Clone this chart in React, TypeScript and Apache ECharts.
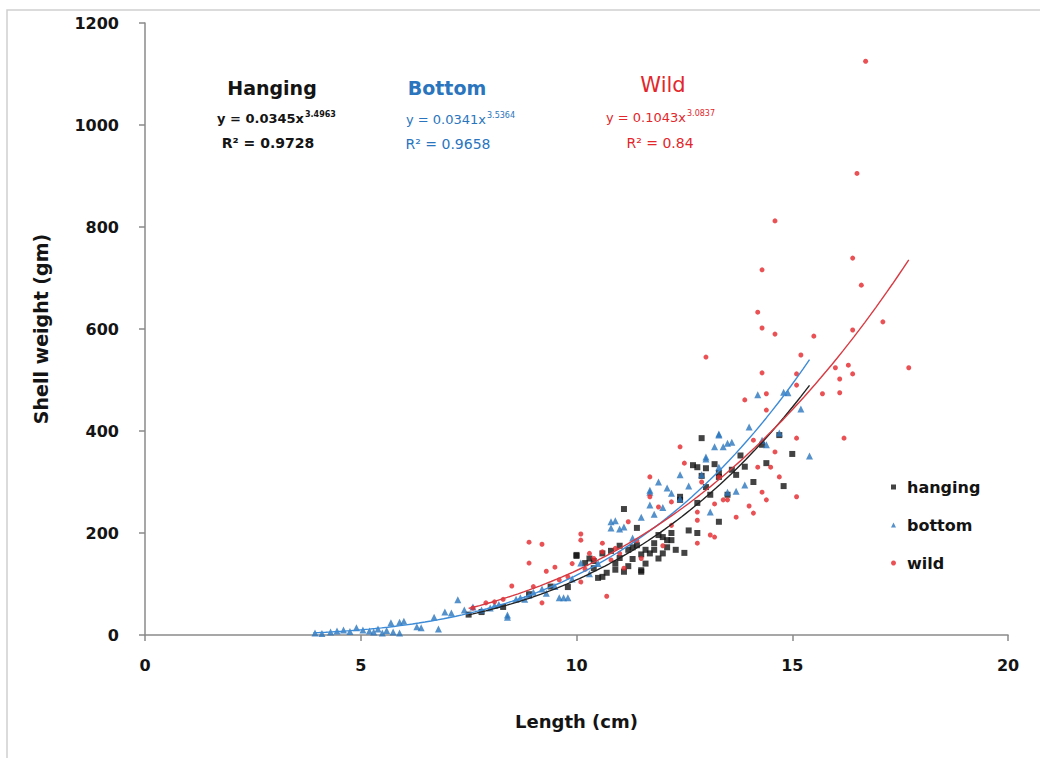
import React, { useEffect, useRef } from "react";
import * as echarts from "echarts";

const xTicks = [0, 5, 10, 15, 20];
const yTicks = [0, 200, 400, 600, 800, 1000, 1200];

const hanging: number[][] = [
  [7.5, 40], [7.8, 45], [8.3, 55], [8.9, 80], [9.4, 95], [9.8, 94], [10.0, 155], [10.0, 157],
  [10.2, 141], [10.3, 150], [10.4, 131], [10.5, 112], [10.6, 114], [10.6, 160], [10.7, 122],
  [10.8, 165], [10.9, 140], [11.0, 151], [11.0, 175], [11.1, 124], [11.1, 247], [11.2, 167],
  [11.2, 135], [11.3, 149], [11.4, 210], [11.4, 176], [11.5, 127], [11.5, 124], [11.6, 167],
  [11.6, 140], [11.7, 160], [11.8, 167], [11.9, 196], [11.9, 150], [12.0, 192], [12.0, 160],
  [12.1, 186], [12.2, 186], [12.2, 200], [12.3, 167], [12.4, 271], [12.4, 265], [12.5, 161],
  [12.7, 333], [12.8, 329], [12.8, 259], [12.8, 200], [12.9, 386], [12.9, 312], [13.0, 327],
  [13.0, 290], [13.3, 310], [13.3, 318], [13.3, 222], [13.5, 275], [13.6, 324], [13.7, 314],
  [13.9, 330], [14.1, 300], [14.3, 373], [14.4, 337], [14.7, 392], [14.8, 292], [15.0, 355],
  [10.4, 145], [10.9, 128], [11.3, 172], [11.5, 158], [11.8, 180], [12.1, 172], [12.6, 205],
  [13.1, 275], [13.2, 335], [13.8, 352],
];

const bottom: number[][] = [
  [3.94, 4], [4.1, 3], [4.3, 6], [4.45, 8], [4.6, 10], [4.75, 7], [4.9, 14], [5.05, 10],
  [5.2, 8], [5.3, 6], [5.4, 12], [5.5, 4], [5.6, 9], [5.75, 6], [5.7, 24], [5.9, 4], [5.9, 25],
  [6.0, 27], [6.3, 16], [6.4, 14], [6.7, 35], [6.8, 12], [6.95, 45], [7.1, 43], [7.25, 69],
  [7.4, 49], [7.6, 55], [7.8, 49], [8.0, 53], [8.2, 60], [8.4, 39], [8.4, 35], [8.6, 70],
  [8.7, 73], [8.9, 78], [9.0, 84], [9.3, 82], [9.5, 95], [9.6, 73], [9.7, 73], [9.8, 73],
  [10.1, 141], [10.3, 120], [10.8, 222], [10.8, 210], [10.9, 224], [11.0, 208], [11.1, 212],
  [11.5, 231], [11.7, 284], [11.7, 255], [11.7, 280], [11.8, 237], [11.9, 300], [12.1, 288],
  [12.2, 278], [12.4, 314], [12.4, 267], [12.6, 292], [12.9, 314], [13.0, 345], [13.0, 349],
  [13.1, 241], [13.2, 369], [13.3, 392], [13.3, 329], [13.3, 394], [13.4, 369], [13.5, 376],
  [13.5, 280], [13.6, 378], [13.7, 282], [13.9, 294], [14.0, 408], [14.2, 471], [14.3, 382],
  [14.4, 373], [14.7, 396], [14.8, 476], [14.9, 475], [15.2, 443], [15.4, 351],
  [8.1, 58], [8.8, 70], [9.2, 90], [9.9, 110], [10.5, 140], [11.3, 190], [12.0, 250],
];

const wild: number[][] = [
  [7.6, 53], [7.9, 63], [8.1, 65], [8.5, 96], [8.9, 182], [8.9, 141], [9.2, 178], [9.2, 63],
  [9.3, 125], [9.5, 133], [9.6, 108], [9.8, 114], [9.9, 140], [10.1, 198], [10.1, 186],
  [10.1, 104], [10.2, 129], [10.4, 150], [10.6, 180], [10.6, 163], [10.7, 76], [10.8, 147],
  [11.0, 160], [11.1, 131], [11.2, 222], [11.5, 150], [11.7, 310], [11.7, 271], [11.9, 251],
  [12.0, 175], [12.2, 261], [12.4, 369], [12.5, 337], [12.8, 241], [12.8, 225], [12.8, 180],
  [13.0, 545], [13.1, 196], [13.2, 257], [13.2, 192], [13.3, 310], [13.4, 265], [13.5, 265],
  [13.7, 231], [13.9, 461], [14.0, 253], [14.1, 239], [14.1, 382], [14.2, 329], [14.2, 633],
  [14.3, 716], [14.3, 602], [14.3, 514], [14.3, 280], [14.4, 473], [14.4, 441], [14.4, 265],
  [14.5, 329], [14.6, 812], [14.6, 590], [14.6, 359], [14.7, 310], [15.1, 512], [15.1, 490],
  [15.1, 386], [15.1, 271], [15.2, 549], [15.5, 586], [15.7, 473], [16.0, 524], [16.1, 502],
  [16.1, 475], [16.2, 386], [16.3, 529], [16.4, 739], [16.4, 598], [16.4, 512], [16.5, 905],
  [16.6, 686], [16.7, 1125], [17.1, 614], [17.7, 524],
  [8.3, 70], [9.0, 95], [10.3, 160], [10.9, 170], [11.4, 185], [12.2, 215], [12.9, 300],
];

// Power trendlines as displayed on the chart: [coefficient, exponent, xStart, xEnd]
const hangingFit = [0.0345, 3.4963, 7.5, 15.4];
const bottomFit = [0.0341, 3.5364, 3.9, 15.4];
const wildFit = [0.1043, 3.0837, 7.5, 17.7];

function curve(fit: number[]): number[][] {
  const [a, b, x0, x1] = fit;
  const pts: number[][] = [];
  const n = 80;
  for (let i = 0; i <= n; i++) {
    const x = x0 + ((x1 - x0) * i) / n;
    pts.push([x, a * Math.pow(x, b)]);
  }
  return pts;
}

const FONT = "'DejaVu Sans', sans-serif";
const BLACK = "#141414";
const BLUE = "#2a75bd";
const RED = "#e3262b";

export default function App() {
  const ref = useRef<HTMLDivElement>(null);
  useEffect(() => {
    if (!ref.current) return;
    const chart = echarts.init(ref.current, null, { renderer: "svg" });
    const eq = (
      x: number,
      y: number,
      main: string,
      sup: string,
      color: string,
      weight: string
    ) => [
      {
        type: "text",
        x,
        y,
        style: { text: main, fill: color, font: `${weight} 13px ${FONT}`, textAlign: "right", textVerticalAlign: "middle" },
      },
      {
        type: "text",
        x: x + 1,
        y: y - 4,
        style: { text: sup, fill: color, font: `${weight} 8px ${FONT}`, textAlign: "left", textVerticalAlign: "middle" },
      },
    ];
    const center = (x: number, y: number, text: string, color: string, font: string) => ({
      type: "text",
      x,
      y,
      style: { text, fill: color, font, textAlign: "center", textVerticalAlign: "middle" },
    });
    chart.setOption({
      animation: false,
      backgroundColor: "#fff",
      grid: { left: 145, right: 32, top: 23, bottom: 123 },
      xAxis: {
        type: "value",
        min: 0,
        max: 20,
        interval: 5,
        name: "Length (cm)",
        nameLocation: "middle",
        nameGap: 77,
        nameTextStyle: { color: BLACK, fontFamily: FONT, fontWeight: "bold", fontSize: 18 },
        axisLine: { lineStyle: { color: "#8a8a8a", width: 1.5 } },
        axisTick: { show: true, length: 6, lineStyle: { color: "#8a8a8a", width: 1.5 } },
        axisLabel: { color: BLACK, fontFamily: FONT, fontWeight: "bold", fontSize: 16, margin: 22 },
        splitLine: { show: false },
      },
      yAxis: {
        type: "value",
        min: 0,
        max: 1200,
        interval: 200,
        name: "Shell weight (gm)",
        nameLocation: "middle",
        nameGap: 95,
        nameTextStyle: { color: BLACK, fontFamily: FONT, fontWeight: "bold", fontSize: 19 },
        axisLine: { show: true, lineStyle: { color: "#8a8a8a", width: 1.5 } },
        axisTick: { show: true, length: 6, lineStyle: { color: "#8a8a8a", width: 1.5 } },
        axisLabel: {
          color: BLACK,
          fontFamily: FONT,
          fontWeight: "bold",
          fontSize: 16,
          margin: 26,
          formatter: (v: number) => String(v),
        },
        splitLine: { show: false },
      },
      legend: {
        data: ["hanging", "bottom", "wild"],
        orient: "vertical",
        left: 886,
        top: 473,
        itemWidth: 5,
        itemHeight: 5,
        itemGap: 20,
        textStyle: { color: BLACK, fontFamily: FONT, fontWeight: "bold", fontSize: 16, lineHeight: 18, padding: [0, 0, 0, 6] },
      },
      series: [
        { name: "hanging", type: "scatter", symbol: "rect", symbolSize: 6, itemStyle: { color: BLACK }, data: hanging, z: 2 },
        { name: "bottom", type: "scatter", symbol: "triangle", symbolSize: 7, itemStyle: { color: BLUE }, data: bottom, z: 2 },
        { name: "wild", type: "scatter", symbol: "circle", symbolSize: 5, itemStyle: { color: RED }, data: wild, z: 2 },
        { name: "hanging fit", type: "line", showSymbol: false, silent: true, data: curve(hangingFit), lineStyle: { color: "#222", width: 1.4 }, z: 3 },
        { name: "bottom fit", type: "line", showSymbol: false, silent: true, data: curve(bottomFit), lineStyle: { color: "#3d8bd6", width: 1.4 }, z: 3 },
        { name: "wild fit", type: "line", showSymbol: false, silent: true, data: curve(wildFit), lineStyle: { color: "#d83a42", width: 1.4 }, z: 3 },
      ],
      graphic: [
        {
          type: "rect",
          shape: { x: 7, y: 10, width: 1200, height: 1000 },
          style: { fill: "none", stroke: "#cfcfcf", lineWidth: 1.5 },
          z: -1,
        },
        center(272, 88, "Hanging", BLACK, `bold 19px ${FONT}`),
        ...eq(304, 118, "y = 0.0345x", "3.4963", BLACK, "bold"),
        center(268, 143, "R² = 0.9728", BLACK, `bold 14px ${FONT}`),
        center(447, 88, "Bottom", BLUE, `bold 19px ${FONT}`),
        ...eq(486, 119, "y = 0.0341x", "3.5364", BLUE, "normal"),
        center(448, 144, "R² = 0.9658", BLUE, `normal 14px ${FONT}`),
        center(663, 85, "Wild", RED, `normal 21px ${FONT}`),
        ...eq(686, 117, "y = 0.1043x", "3.0837", RED, "normal"),
        center(660, 143, "R² = 0.84", RED, `normal 14px ${FONT}`),
      ],
    });
    return () => chart.dispose();
  }, []);
  return (
    <div
      ref={ref}
      style={{ position: "fixed", left: 0, top: 0, width: 1040, height: 758, background: "#fff" }}
    />
  );
}
